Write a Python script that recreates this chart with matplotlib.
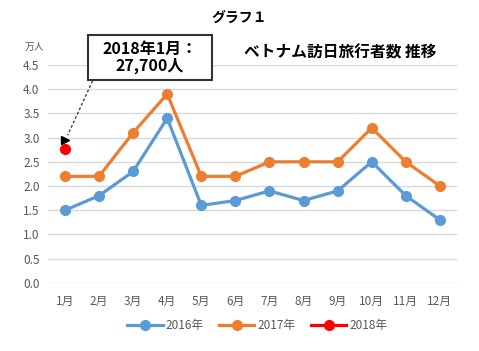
import matplotlib
matplotlib.use('Agg')
import matplotlib.pyplot as plt
from matplotlib.patches import Rectangle

plt.rcParams['font.family'] = ['Noto Sans CJK JP', 'DejaVu Sans']

months = ['1月', '2月', '3月', '4月', '5月', '6月', '7月', '8月', '9月', '10月', '11月', '12月']
v2016 = [1.5, 1.8, 2.3, 3.4, 1.6, 1.7, 1.9, 1.7, 1.9, 2.5, 1.8, 1.3]
v2017 = [2.2, 2.2, 3.1, 3.9, 2.2, 2.2, 2.5, 2.5, 2.5, 3.2, 2.5, 2.0]
v2018 = [2.77]
yticks = [0.0, 0.5, 1.0, 1.5, 2.0, 2.5, 3.0, 3.5, 4.0, 4.5]

fig = plt.figure(figsize=(4.79, 3.51), dpi=100)
ax = fig.add_axes([0.100, 0.194, 0.854, 0.621])

x = list(range(len(months)))
ax.plot(x, v2016, color='#5B9BD5', lw=2.3, marker='o', ms=7, label='2016年')
ax.plot(x, v2017, color='#ED7D31', lw=2.3, marker='o', ms=7, label='2017年')
ax.plot(x[:1], v2018, color='#FF0000', lw=2.3, marker='o', ms=7, label='2018年')

ax.set_xlim(-0.5, 11.5)
ax.set_ylim(0, 4.5)
ax.set_xticks(x)
ax.set_xticklabels(months)
ax.set_yticks(yticks)
ax.set_yticklabels(['%.1f' % v for v in yticks])
ax.tick_params(length=0, labelsize=8.5, colors='#595959', pad=6)
ax.tick_params(axis='x', pad=9)
ax.grid(True, axis='y', color='#D9D9D9', lw=1)
ax.set_axisbelow(True)
for s in ax.spines.values():
    s.set_visible(False)

# dashed pointer from the callout to the 2018 point
ax.plot([0.81, 0.08], [4.17, 3.05], color='#404040', lw=1.0, ls=(0, (2, 1.5)),
        clip_on=False)
ax.plot([0.0], [2.96], marker='>', color='black', ms=6, clip_on=False)

fig.add_artist(Rectangle((0.184, 0.772), 0.259, 0.128, transform=fig.transFigure,
                         fc='white', ec='#333333', lw=1.5))
fig.text(0.313, 0.836, '2018年1月：\n27,700人', ha='center', va='center',
         fontsize=11.5, fontweight='bold', linespacing=1.1)

fig.text(0.499, 0.947, 'グラフ１', ha='center', va='center', fontsize=10, fontweight='bold')
fig.text(0.711, 0.851, 'ベトナム訪日旅行者数 推移', ha='center', va='center',
         fontsize=11.3, fontweight='bold')
fig.text(0.072, 0.866, '万人', ha='center', va='center', fontsize=7, color='#595959')

fig.legend(loc='center', bbox_to_anchor=(0.537, 0.073), ncol=3, frameon=False,
           fontsize=8.5, labelcolor='#595959', handlelength=3.0, columnspacing=1.3,
           handletextpad=0.25)

fig.savefig('out.png', dpi=100)
